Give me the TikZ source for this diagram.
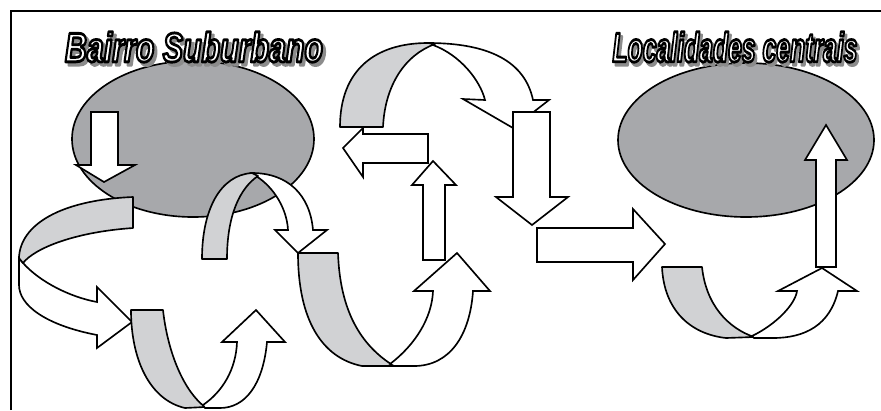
\documentclass[tikz,border=0pt]{standalone}
\usepackage{fontspec}
\setmainfont{Liberation Sans}

\definecolor{blobgray}{HTML}{A7A8AB}
\definecolor{bandgray}{HTML}{D1D2D4}

\newcommand{\strokeon}{\special{pdf:literal direct 2 Tr 0.7 w 1 j 0 G 1 g}}
\newcommand{\shadowon}{\special{pdf:literal direct 2 Tr 0.7 w 1 j 0.55 G 0.55 g}}
\newcommand{\strokeoff}{\special{pdf:literal direct 0 Tr 0 G 0 g}}
\newcommand{\titletext}[1]{\rlap{\kern1pt\raisebox{-0.8pt}[0pt][0pt]{\shadowon\bfseries\itshape #1\strokeoff}}{\strokeon\bfseries\itshape #1\strokeoff}}

\begin{document}
\begin{tikzpicture}[x=0.03cm,y=-0.03cm]

  \tikzstyle{blob} = [draw, line width=1.4pt, fill=blobgray]
  \tikzstyle{back} = [draw, line width=1.4pt, fill=bandgray, line join=round]
  \tikzstyle{front} = [draw, line width=1.4pt, fill=white, line join=miter]
  \tikzstyle{title} = [inner sep=0]

  \useasboundingbox (0,0) rectangle (881,410);
  \draw[line width=1.3pt] (11,410) -- (11,11) -- (881,11);

  \draw[blob] (193,139) ellipse [x radius=121, y radius=78];
  \draw[blob] (746,140) ellipse [x radius=128, y radius=77];

  \node[title] (suburbano) at (194,47) {\resizebox{7.74cm}{0.9cm}{\titletext{Bairro Suburbano}}};
  \node[title] (centrais) at (735,47) {\resizebox{7.35cm}{0.9cm}{\titletext{Localidades centrais}}};

  % saida do bairro
  \draw[front] (91,112) -- (118,112) -- (118,165) -- (135,165) -- (104,182) -- (76,165) -- (91,165) -- cycle;

  \draw[front] (23,263) .. controls (40,282) and (70,297) .. (97,302) -- (97,287) -- (132,322) -- (97,348) -- (97,335)
    .. controls (45,325) and (19,305) .. (19,285) -- (19,258) -- cycle;
  \draw[back] (133,197) -- (133,228) .. controls (75,232) and (35,248) .. (23,263) -- (19,258)
    .. controls (20,225) and (60,200) .. (133,197) -- cycle;

  \draw[back] (131,310) -- (163,310) .. controls (168,355) and (185,392) .. (205,407) -- (185,408)
    .. controls (150,400) and (131,360) .. (131,310) -- cycle;
  \draw[front] (203,405) .. controls (222,392) and (236,370) .. (237,342) -- (222,342) -- (256,310) -- (285,342) -- (267,342)
    .. controls (263,385) and (245,408) .. (220,408) -- (205,408) -- cycle;

  \draw[front] (256,176) .. controls (275,188) and (287,210) .. (288,230) -- (275,230) -- (298,253) -- (327,230) -- (313,230)
    .. controls (310,195) and (288,173) .. (252,173) -- cycle;
  \draw[back] (202,259) -- (227,259) .. controls (227,215) and (240,188) .. (258,176) -- (252,173)
    .. controls (220,175) and (202,210) .. (202,259) -- cycle;

  \draw[back] (298,253) -- (338,253) .. controls (340,310) and (360,345) .. (394,366) -- (362,366)
    .. controls (322,358) and (298,320) .. (298,253) -- cycle;
  \draw[front] (390,364) .. controls (415,345) and (432,318) .. (433,291) -- (414,291) -- (457,253) -- (490,291) -- (473,291)
    .. controls (470,335) and (450,366) .. (414,366) -- (394,366) -- cycle;

  \draw[front] (433,45) .. controls (460,55) and (480,80) .. (485,100) -- (463,99) -- (513,128) -- (549,100) -- (533,100)
    .. controls (525,62) and (490,43) .. (428,43) -- cycle;
  \draw[back] (340,127) -- (383,127) .. controls (385,85) and (405,55) .. (435,44) -- (428,43)
    .. controls (375,43) and (340,70) .. (340,127) -- cycle;

  \draw[front] (428,134) -- (428,163) -- (363,163) -- (363,177) -- (343,148) -- (363,128) -- (363,134) -- cycle;
  \draw[front] (423,260) -- (423,185) -- (412,185) -- (433,161) -- (456,185) -- (445,185) -- (445,260) -- cycle;

  % rumo as localidades centrais
  \draw[front] (513,112) -- (550,112) -- (550,197) -- (568,197) -- (532,225) -- (496,197) -- (513,197) -- cycle;
  \draw[front] (537,228) -- (633,228) -- (633,209) -- (665,244) -- (633,280) -- (633,262) -- (537,262) -- cycle;

  \draw[back] (662,267) -- (702,267) .. controls (706,305) and (728,328) .. (754,337) -- (726,338)
    .. controls (690,334) and (664,310) .. (662,267) -- cycle;
  \draw[front] (752,336) .. controls (775,325) and (795,305) .. (797,291) -- (778,291) -- (822,268) -- (857,291) -- (838,291)
    .. controls (830,325) and (805,338) .. (773,338) -- (754,338) -- cycle;

  \draw[front] (816,267) -- (816,160) -- (805,160) -- (826,125) -- (847,160) -- (836,160) -- (836,267) -- cycle;

\end{tikzpicture}
\end{document}
